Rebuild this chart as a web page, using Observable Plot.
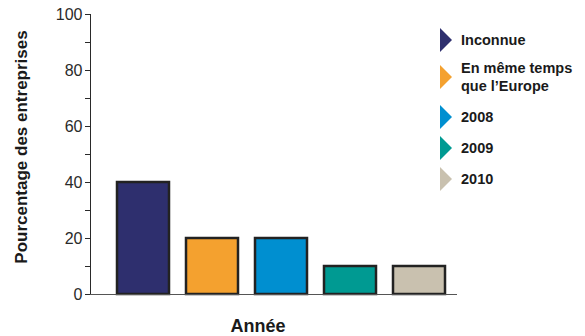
<!DOCTYPE html>
<html>
<head>
<meta charset="utf-8">
<script src="https://cdn.jsdelivr.net/npm/d3@7"></script>
<script src="https://cdn.jsdelivr.net/npm/@observablehq/plot@0.6"></script>
<style>
  html, body { margin: 0; padding: 0; background: #fff; }
  #wrap { position: relative; width: 585px; height: 336px; font-family: "Liberation Sans", Arial, sans-serif; }
  #wrap svg { position: absolute; left: 0; top: 0; }
  .ylab { position: absolute; left: 22px; top: 147px; transform: translate(-50%, -50%) rotate(-90deg); white-space: nowrap; font-weight: bold; font-size: 17px; color: #1a1a1a; }
  .xlab { position: absolute; left: 258px; top: 326px; transform: translate(-50%, -50%); white-space: nowrap; font-weight: bold; font-size: 18px; color: #1a1a1a; }
  .leg { position: absolute; left: 440px; font-weight: bold; font-size: 14.5px; color: #1a1a1a; line-height: 18px; }
  .tri { position: absolute; left: 0; width: 0; height: 0; border-top: 12px solid transparent; border-bottom: 12px solid transparent; border-left: 12px solid; }
  .lt { position: absolute; left: 21px; white-space: nowrap; }
</style>
</head>
<body>
<div id="wrap"></div>
<script>
const categories = ["Inconnue", "En même temps que l’Europe", "2008", "2009", "2010"];
const legendLabels = [["Inconnue"], ["En même temps", "que l’Europe"], ["2008"], ["2009"], ["2010"]];
const values = [40, 20, 20, 10, 10];
const colors = ["#2E2F6E", "#F4A12F", "#008FD0", "#009A92", "#C9C1AF"];
const yTicks = d3.range(0, 101, 10);

const data = categories.map((c, i) => ({cat: c, value: values[i]}));

const chart = Plot.plot({
  width: 585,
  height: 336,
  marginLeft: 90,
  marginRight: 128,
  marginTop: 14,
  marginBottom: 42,
  style: {fontFamily: "Liberation Sans, Arial, sans-serif", fontSize: "16px", color: "#2a2a2a", background: "transparent"},
  x: {domain: categories, paddingInner: 0.252, paddingOuter: 0.266, align: 0.68, axis: null},
  y: {domain: [0, 100], ticks: yTicks, tickFormat: d => d % 20 === 0 ? d : "", tickSize: 5, tickPadding: 3, line: true, label: null},
  color: {domain: categories, range: colors},
  marks: [
    Plot.barY(data, {x: "cat", y: "value", fill: "cat", stroke: "#222", strokeWidth: 2.5}),
    Plot.ruleY([0], {stroke: "#555", strokeWidth: 1.2})
  ]
});

const wrap = document.getElementById("wrap");
wrap.appendChild(chart);

const yl = document.createElement("div");
yl.className = "ylab";
yl.textContent = "Pourcentage des entreprises";
wrap.appendChild(yl);

const xl = document.createElement("div");
xl.className = "xlab";
xl.textContent = "Année";
wrap.appendChild(xl);

const legTops = [28, 65, 105, 136, 167];
legendLabels.forEach((lines, i) => {
  const item = document.createElement("div");
  item.className = "leg";
  item.style.top = legTops[i] + "px";
  const tri = document.createElement("div");
  tri.className = "tri";
  tri.style.borderLeftColor = colors[i];
  tri.style.top = "0px";
  item.appendChild(tri);
  const t = document.createElement("div");
  t.className = "lt";
  t.style.top = (lines.length > 1 ? -6 : 3) + "px";
  t.innerHTML = lines.join("<br>");
  item.appendChild(t);
  wrap.appendChild(item);
});
</script>
</body>
</html>
